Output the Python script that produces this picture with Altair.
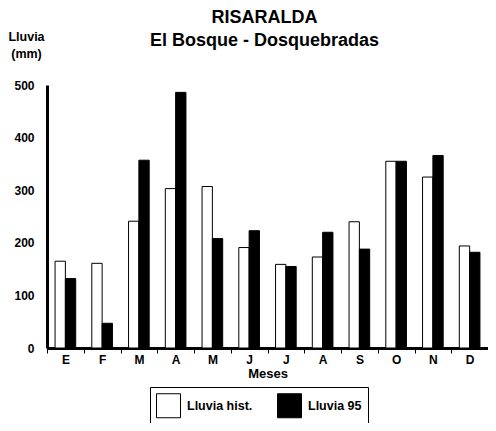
import altair as alt
import pandas as pd

meses = ["E", "F", "M", "A", "M", "J", "J", "A", "S", "O", "N", "D"]
lluvia_hist = [165, 161, 241, 303, 307, 191, 159, 173, 240, 355, 325, 194]
lluvia_95 = [132, 47, 357, 486, 208, 223, 155, 220, 188, 355, 366, 182]
series = ["Lluvia hist.", "Lluvia 95"]
y_ticks = [0, 100, 200, 300, 400, 500]

keys = [f"{m}{i + 1}" for i, m in enumerate(meses)]
rows = []
for i, k in enumerate(keys):
    rows.append({"mes": k, "serie": series[0], "valor": lluvia_hist[i]})
    rows.append({"mes": k, "serie": series[1], "valor": lluvia_95[i]})
df = pd.DataFrame(rows)

FONT = "Liberation Sans"

chart = alt.Chart(df).mark_bar(stroke="black", strokeWidth=1).encode(
    x=alt.X(
        "mes:N", sort=keys,
        scale=alt.Scale(domain=keys, paddingInner=0, paddingOuter=0),
        axis=alt.Axis(
            title="Meses", labelExpr="substring(datum.label, 0, 1)", labelAngle=0,
            tickBand="extent", tickSize=5, tickColor="black", tickWidth=1,
            domainWidth=3, domainColor="black",
            labelFont=FONT, labelFontWeight="bold", labelFontSize=12, labelColor="black",
            labelPadding=1,
            titleFont=FONT, titleFontWeight="bold", titleFontSize=13, titleColor="black",
            titlePadding=2,
        ),
    ),
    xOffset=alt.XOffset(
        "serie:N", sort=series,
        scale=alt.Scale(domain=series, paddingInner=0, paddingOuter=0.78),
    ),
    y=alt.Y(
        "valor:Q",
        scale=alt.Scale(domain=[0, 500], nice=False),
        axis=alt.Axis(
            title=["Lluvia", "(mm)"], values=y_ticks, grid=False, ticks=False,
            domainWidth=3, domainColor="black", labelPadding=13,
            labelFont=FONT, labelFontWeight="bold", labelFontSize=12, labelColor="black",
            titleFont=FONT, titleFontWeight="bold", titleFontSize=12.5, titleColor="black",
            titleAngle=0, titleX=-21, titleY=-45, titleAlign="center",
            titleBaseline="alphabetic", titleLineHeight=17,
        ),
    ),
    fill=alt.Fill(
        "serie:N", sort=series,
        scale=alt.Scale(domain=series, range=["white", "black"]),
        legend=alt.Legend(
            title=None, orient="none", legendX=103, legendY=302,
            direction="horizontal", columns=2, gridAlign="all",
            symbolType="square", symbolSize=576, symbolStrokeColor="black",
            symbolStrokeWidth=1, strokeColor="black", padding=6,
            columnPadding=22, labelOffset=6,
            labelFont=FONT, labelFontWeight="bold", labelFontSize=12.5, labelColor="black",
        ),
    ),
).properties(
    width=441, height=263,
    padding={"left": 39, "top": 77, "right": 0, "bottom": 75},
    autosize=alt.AutoSizeParams(type="none"),
    title=alt.Title(
        "RISARALDA", subtitle="El Bosque - Dosquebradas",
        font=FONT, subtitleFont=FONT, fontSize=18, subtitleFontSize=18,
        fontWeight="bold", subtitleFontWeight="bold",
        color="black", subtitleColor="black",
        anchor="middle", frame="group", offset=-20, subtitlePadding=5, dx=-3,
    ),
).configure_view(stroke=None)

chart.save("out.html", embed_options={"renderer": "svg", "actions": False})
